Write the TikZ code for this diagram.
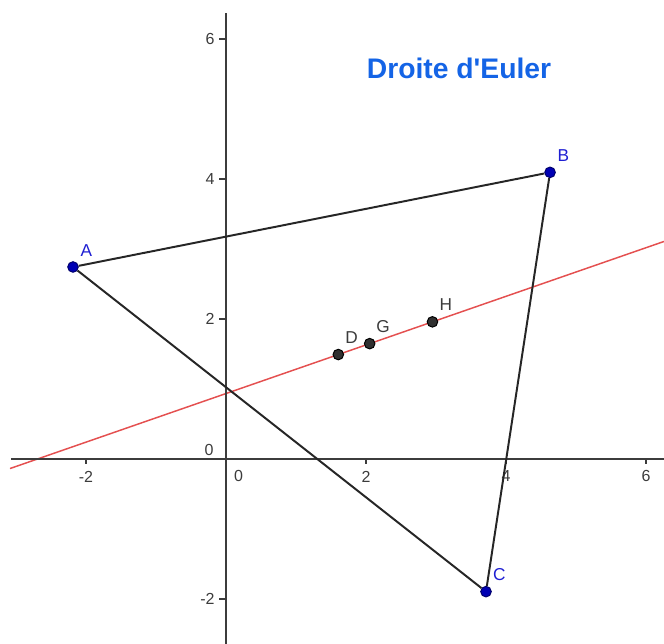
\documentclass[tikz,border=0pt]{standalone}
\usepackage{fontspec}
\newfontfamily\ggfont{Liberation Sans}
\usetikzlibrary{calc,backgrounds}
\definecolor{ptblue}{RGB}{0,0,180}
\definecolor{lblblue}{RGB}{30,30,210}
\definecolor{titleblue}{RGB}{20,100,230}
\definecolor{ggdark}{RGB}{60,60,60}
\definecolor{eulerred}{RGB}{228,80,80}
\begin{document}
\begin{tikzpicture}[every node/.style={font=\ggfont\fontsize{7}{8}\selectfont}, line width=0.8pt,
  axisline/.style={draw=ggdark, line width=0.6pt},
  ticklbl/.style={font=\ggfont\fontsize{6.5}{7}\selectfont, text=ggdark, inner sep=0pt},
  bpt/.style={circle, fill=ptblue, draw=ptblue!60!black, line width=0.4pt, inner sep=0pt, minimum size=4.3pt},
  dpt/.style={bpt, fill=ggdark!80!black, draw=black},
  blbl/.style={text=lblblue, inner sep=0pt},
  dlbl/.style={text=ggdark, inner sep=0pt}]
  \useasboundingbox (-3.229,-2.643) rectangle (6.257,6.557);
  \draw[axisline] (-3.071,0) -- (6.257,0);
  \draw[axisline] (0,-2.643) -- (0,6.371);
  \foreach \v in {-2,2,4,6} {
    \draw[axisline, line width=0.5pt] (\v,0) -- (\v,-0.07);
    \draw[axisline, line width=0.5pt] (0,\v) -- (-0.1,\v);
    \node[ticklbl] (xl\v) at (\v,-0.25) {\v};
    \node[ticklbl, anchor=east] (yl\v) at (-0.15,\v) {\v};
  }
  \node[ticklbl] (xl0) at (0.179,-0.25) {0};
  \node[ticklbl] (yl0) at (-0.243,0.129) {0};
  \node[font=\ggfont\bfseries\fontsize{11.5}{13}\selectfont, text=titleblue] (title) at (3.329,5.586) {Droite d'Euler};
  \node[bpt] (A) at (-2.186,2.743) {};
  \node[bpt] (B) at (4.629,4.095) {};
  \node[bpt] (C) at (3.714,-1.895) {};
  \node[dpt] (D) at (1.604,1.492) {};
  \node[dpt] (G) at (2.052,1.648) {};
  \node[dpt] (H) at (2.949,1.959) {};
  \begin{scope}[on background layer]
    \draw[eulerred, line width=0.6pt] ($(D)!-3.487!(H)$) -- ($(D)!3.459!(H)$);
  \end{scope}
  \draw[black!85] (A) -- (B) -- (C) -- (A);
  \foreach \p/\s in {A/blbl, B/blbl, C/blbl, D/dlbl, G/dlbl, H/dlbl}
    \node[\s] (l\p) at ([shift={(0.19,0.24)}]\p.center) {\p};
\end{tikzpicture}
\end{document}
